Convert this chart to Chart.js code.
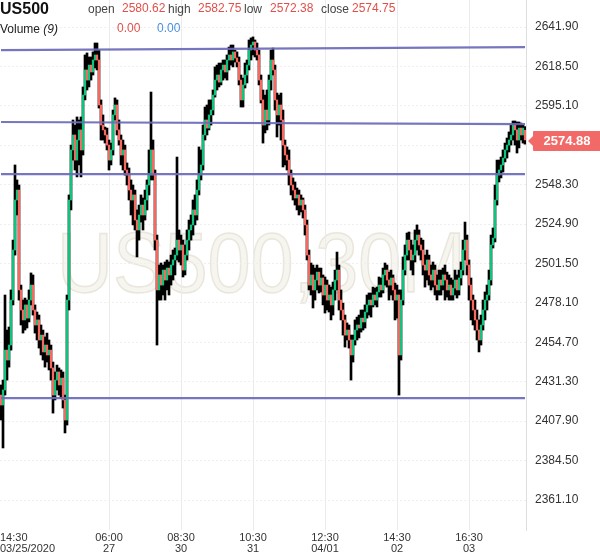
<!DOCTYPE html>
<html><head><meta charset="utf-8">
<script src="https://cdn.jsdelivr.net/npm/chart.js@4.4.1/dist/chart.umd.min.js"></script>
<style>html,body{margin:0;padding:0;background:#fff;}#wrap{position:relative;width:600px;height:558px;}</style>
</head><body><div id="wrap"><canvas id="c" width="600" height="558"></canvas></div>
<script>
// ---- data (US500, 30M candles) ----
const openV=[
2423.4,2417.5,2426.4,2450.1,2444.2,2453.1,2479.8,2509.5,2539.2,2545.1,
2485.8,2473.9,2468.0,2476.9,2469.1,2479.8,2488.7,2473.9,2465.0,2468.0,
2456.1,2459.0,2449.0,2453.1,2447.2,2450.1,2439.5,2423.4,2432.3,2437.1,
2429.4,2433.5,2420.5,2408.6,2479.8,2539.2,2568.9,2577.8,2562.9,2574.8,
2580.8,2568.9,2601.5,2616.4,2610.4,2619.3,2615.2,2622.3,2625.3,2622.3,
2595.6,2583.7,2580.8,2577.8,2571.8,2562.9,2568.9,2589.7,2595.6,2580.8,
2574.8,2565.9,2568.9,2557.0,2554.0,2545.1,2539.2,2542.2,2527.3,2521.4,
2530.3,2536.2,2530.3,2539.2,2548.1,2554.0,2568.9,2554.0,2515.4,2485.8,
2494.7,2488.7,2497.6,2491.7,2498.8,2494.7,2500.6,2503.6,2506.5,2515.4,
2509.5,2512.5,2497.6,2506.5,2515.4,2521.4,2524.4,2533.3,2530.3,2545.1,
2554.0,2560.0,2577.8,2586.7,2581.9,2589.7,2592.6,2601.5,2610.4,2613.4,
2609.2,2616.4,2619.3,2615.2,2622.3,2625.3,2622.3,2627.1,2623.5,2621.1,
2610.4,2598.6,2607.5,2613.4,2619.3,2628.2,2631.2,2633.0,2628.2,2625.3,
2610.4,2598.6,2583.7,2592.6,2586.7,2610.4,2622.3,2616.4,2598.6,2589.7,
2595.6,2586.7,2571.8,2565.9,2562.9,2554.0,2548.1,2545.1,2540.4,2542.2,
2536.2,2539.2,2533.3,2524.4,2506.5,2488.7,2494.7,2485.8,2491.7,2496.4,
2488.7,2492.9,2482.8,2488.7,2479.8,2482.8,2476.9,2485.8,2491.7,2497.6,
2479.8,2473.9,2468.0,2459.0,2462.0,2456.1,2447.2,2456.1,2462.0,2465.0,
2463.2,2469.1,2466.8,2472.7,2476.9,2479.8,2476.9,2482.8,2479.8,2484.6,
2488.7,2485.8,2494.7,2497.6,2491.7,2488.7,2492.9,2485.8,2479.8,2482.8,
2447.2,2479.8,2497.6,2506.5,2515.4,2509.5,2503.6,2506.5,2515.4,2518.4,
2512.5,2509.5,2500.6,2497.6,2503.6,2494.7,2491.7,2497.6,2488.7,2485.8,
2491.7,2488.7,2494.7,2491.7,2485.8,2488.7,2482.8,2486.9,2491.7,2485.8,
2492.9,2497.6,2509.5,2515.4,2500.6,2488.7,2479.8,2473.9,2468.0,2462.0,
2456.1,2465.0,2473.9,2479.8,2482.8,2491.7,2512.5,2516.6,2539.2,2554.0,
2557.0,2560.0,2564.1,2568.9,2571.8,2574.8,2577.8,2583.7,2580.8,2574.8,
2581.9,2577.8,2580.62];
const highV=[
2429.4,2432.3,2482.8,2462.0,2463.8,2485.8,2515.4,2560.0,2551.1,2548.1,
2488.7,2479.8,2481.0,2479.8,2485.8,2495.9,2494.7,2476.9,2472.7,2470.9,
2465.0,2462.0,2457.9,2460.2,2456.1,2453.1,2443.0,2437.1,2441.2,2439.5,
2438.3,2437.1,2423.4,2482.8,2542.2,2571.8,2586.7,2583.7,2588.5,2586.7,
2588.5,2606.3,2625.3,2626.5,2624.1,2624.1,2627.1,2632.4,2632.4,2628.2,
2598.6,2589.7,2582.5,2581.9,2574.8,2573.0,2592.6,2599.8,2598.6,2586.7,
2577.8,2574.8,2571.8,2561.2,2558.2,2551.1,2548.1,2545.1,2533.3,2536.2,
2542.2,2540.4,2545.1,2551.1,2568.9,2603.3,2574.8,2557.0,2518.4,2500.6,
2501.8,2500.6,2502.4,2503.6,2502.4,2506.5,2509.5,2510.7,2564.7,2521.4,
2518.4,2515.4,2512.5,2521.4,2527.3,2530.3,2539.2,2542.2,2551.1,2570.7,
2568.9,2583.7,2594.4,2595.6,2598.6,2598.6,2604.5,2618.2,2619.3,2620.5,
2620.5,2622.3,2622.3,2625.3,2630.0,2631.2,2631.2,2628.2,2627.1,2624.1,
2613.4,2611.6,2620.5,2622.3,2634.2,2635.4,2636.0,2634.2,2632.4,2628.2,
2613.4,2604.5,2601.5,2604.5,2613.4,2628.2,2629.4,2619.3,2602.7,2601.5,
2602.7,2592.6,2574.8,2570.7,2568.9,2557.0,2552.3,2549.9,2546.3,2545.1,
2542.2,2540.4,2536.2,2527.3,2509.5,2501.8,2500.6,2498.8,2500.6,2498.8,
2498.8,2494.7,2493.5,2491.7,2488.7,2487.5,2490.5,2497.6,2508.3,2500.6,
2485.8,2478.0,2470.9,2466.2,2465.0,2459.0,2459.0,2468.0,2469.7,2470.9,
2473.9,2473.9,2476.9,2482.8,2484.0,2484.0,2487.5,2486.9,2487.5,2493.5,
2492.9,2498.8,2501.8,2500.6,2496.4,2497.6,2494.7,2489.9,2488.7,2485.8,
2485.8,2505.4,2512.5,2519.6,2520.2,2515.4,2512.5,2521.4,2524.4,2521.4,
2516.6,2515.4,2506.5,2509.5,2506.5,2500.6,2502.4,2500.6,2494.7,2497.6,
2497.6,2498.8,2500.6,2496.4,2494.7,2492.9,2491.7,2497.6,2494.7,2497.6,
2502.4,2515.4,2526.1,2518.4,2503.6,2492.9,2482.8,2479.8,2473.9,2468.0,
2470.9,2479.8,2484.6,2488.7,2497.6,2518.4,2522.6,2548.1,2562.9,2562.9,
2564.7,2568.9,2573.0,2576.0,2579.6,2583.7,2586.1,2586.1,2585.5,2585.5,
2584.9,2583.7,2582.75];
const lowV=[
2408.6,2392.0,2423.4,2432.3,2440.0,2450.1,2476.9,2506.5,2530.3,2479.8,
2465.0,2460.2,2462.0,2463.2,2466.8,2476.9,2470.9,2460.2,2456.1,2451.3,
2447.2,2444.2,2440.0,2443.0,2438.3,2432.3,2412.7,2420.5,2426.4,2423.4,
2421.6,2415.7,2400.9,2405.6,2473.9,2533.3,2562.9,2557.0,2552.9,2560.0,
2552.9,2565.9,2598.6,2604.5,2606.3,2610.4,2613.4,2617.6,2616.4,2593.8,
2574.8,2574.8,2573.0,2568.9,2557.0,2560.0,2565.9,2586.7,2577.8,2571.8,
2560.0,2557.0,2554.0,2548.1,2539.2,2530.3,2524.4,2521.4,2505.4,2515.4,
2526.1,2521.4,2527.3,2533.3,2542.2,2551.1,2551.1,2509.5,2453.1,2479.8,
2479.8,2482.8,2479.8,2485.8,2482.8,2488.7,2491.7,2494.7,2503.6,2502.4,
2500.6,2493.5,2494.7,2503.6,2509.5,2515.4,2518.4,2524.4,2527.3,2542.2,
2551.1,2557.0,2574.8,2577.8,2580.8,2583.7,2589.7,2600.3,2604.5,2606.3,
2607.5,2610.4,2611.6,2610.4,2616.4,2619.3,2618.2,2621.1,2618.2,2607.5,
2594.4,2594.4,2605.7,2608.7,2616.4,2622.3,2625.3,2624.1,2622.3,2607.5,
2596.8,2573.0,2579.0,2580.8,2583.7,2604.5,2613.4,2592.6,2576.6,2583.7,
2574.8,2558.8,2560.0,2557.0,2548.1,2542.2,2539.2,2536.2,2533.3,2530.3,
2532.1,2528.5,2518.4,2503.6,2485.8,2482.8,2475.1,2479.8,2485.8,2484.0,
2484.6,2476.9,2472.1,2473.9,2472.7,2468.0,2470.9,2479.8,2485.8,2473.9,
2468.0,2459.0,2451.9,2456.1,2451.3,2432.3,2443.0,2453.1,2456.1,2457.3,
2460.8,2462.0,2463.2,2469.1,2470.9,2469.7,2475.7,2476.9,2475.7,2481.6,
2481.6,2484.0,2488.7,2487.5,2479.8,2482.8,2479.8,2468.0,2469.1,2423.4,
2444.2,2476.9,2494.7,2503.6,2503.6,2497.6,2494.7,2502.4,2509.5,2506.5,
2503.6,2494.7,2487.5,2491.7,2488.7,2485.8,2487.5,2482.8,2479.8,2482.8,
2482.8,2485.8,2479.8,2481.6,2479.8,2479.8,2479.8,2482.8,2481.0,2482.8,
2488.7,2494.7,2503.6,2494.7,2479.8,2468.0,2465.0,2462.0,2456.1,2449.0,
2453.1,2462.0,2468.0,2473.9,2479.8,2488.7,2510.7,2514.3,2536.2,2549.9,
2552.3,2555.8,2561.8,2564.1,2567.7,2571.8,2574.8,2571.8,2567.1,2570.1,
2574.8,2573.0,2572.38];
const closeV=[
2417.5,2426.4,2450.1,2444.2,2453.1,2479.8,2509.5,2539.2,2545.1,2485.8,
2473.9,2468.0,2476.9,2469.1,2479.8,2488.7,2473.9,2465.0,2468.0,2456.1,
2459.0,2449.0,2453.1,2447.2,2450.1,2439.5,2423.4,2432.3,2437.1,2429.4,
2433.5,2420.5,2408.6,2479.8,2539.2,2568.9,2577.8,2562.9,2574.8,2580.8,
2568.9,2601.5,2616.4,2610.4,2619.3,2615.2,2622.3,2625.3,2622.3,2595.6,
2583.7,2580.8,2577.8,2571.8,2562.9,2568.9,2589.7,2595.6,2580.8,2574.8,
2565.9,2568.9,2557.0,2554.0,2545.1,2539.2,2542.2,2527.3,2521.4,2530.3,
2536.2,2530.3,2539.2,2548.1,2554.0,2568.9,2554.0,2515.4,2485.8,2494.7,
2488.7,2497.6,2491.7,2498.8,2494.7,2500.6,2503.6,2506.5,2515.4,2509.5,
2512.5,2497.6,2506.5,2515.4,2521.4,2524.4,2533.3,2530.3,2545.1,2554.0,
2560.0,2577.8,2586.7,2581.9,2589.7,2592.6,2601.5,2610.4,2613.4,2609.2,
2616.4,2619.3,2615.2,2622.3,2625.3,2622.3,2627.1,2623.5,2621.1,2610.4,
2598.6,2607.5,2613.4,2619.3,2628.2,2631.2,2633.0,2628.2,2625.3,2610.4,
2598.6,2583.7,2592.6,2586.7,2610.4,2622.3,2616.4,2598.6,2589.7,2595.6,
2586.7,2571.8,2565.9,2562.9,2554.0,2548.1,2545.1,2540.4,2542.2,2536.2,
2539.2,2533.3,2524.4,2506.5,2488.7,2494.7,2485.8,2491.7,2496.4,2488.7,
2492.9,2482.8,2488.7,2479.8,2482.8,2476.9,2485.8,2491.7,2497.6,2479.8,
2473.9,2468.0,2459.0,2462.0,2456.1,2447.2,2456.1,2462.0,2465.0,2463.2,
2469.1,2466.8,2472.7,2476.9,2479.8,2476.9,2482.8,2479.8,2484.6,2488.7,
2485.8,2494.7,2497.6,2491.7,2488.7,2492.9,2485.8,2479.8,2482.8,2447.2,
2479.8,2497.6,2506.5,2515.4,2509.5,2503.6,2506.5,2515.4,2518.4,2512.5,
2509.5,2500.6,2497.6,2503.6,2494.7,2491.7,2497.6,2488.7,2485.8,2491.7,
2488.7,2494.7,2491.7,2485.8,2488.7,2482.8,2486.9,2491.7,2485.8,2492.9,
2497.6,2509.5,2515.4,2500.6,2488.7,2479.8,2473.9,2468.0,2462.0,2456.1,
2465.0,2473.9,2479.8,2482.8,2491.7,2512.5,2516.6,2539.2,2554.0,2557.0,
2560.0,2564.1,2568.9,2571.8,2574.8,2577.8,2583.7,2580.8,2574.8,2581.9,
2577.8,2581.9,2574.88];

const yTickValues=[2641.90,2618.50,2595.10,2571.70,2548.30,2524.90,2501.50,2478.10,2454.70,2431.30,2407.90,2384.50,2361.10];
const xTickIndex=[0,54,90,126,162,198,234];
const xTickTime=['14:30','06:00','08:30','10:30','12:30','14:30','16:30'];
const xTickDate=['03/25/2020','27','30','31','04/01','02','03'];
const levelStart=[2628.2,2585.5,2554.6,2421.6];
const levelEnd=[2630.0,2584.3,2554.6,2421.6];
const lastPrice=2574.88;
const headerLabels=['open','high','low','close'];
const headerValues=['2580.62','2582.75','2572.38','2574.75'];
const volumeValues=['0.00','0.00'];

// ---- build ----
const FONT='Arial, "Liberation Sans", sans-serif';
const N=openV.length;
const labels=openV.map((_,i)=>i);
const wick=lowV.map((l,i)=>[l,highV[i]]);
const body=openV.map((o,i)=>[o,closeV[i]]);
const bodyColors=openV.map((o,i)=>closeV[i]>=o?'#0fc47c':'#f7685f');
const levelSets=levelStart.map((s,k)=>{
  const arr=new Array(N).fill(null); arr[0]=s; arr[N-1]=levelEnd[k];
  return {type:'line',data:arr,spanGaps:true,borderColor:'rgba(106,106,186,0.92)',borderWidth:2.2,pointRadius:0,order:0};
});

const deco={
  id:'deco',
  beforeDraw(chart){
    const {ctx,chartArea:a}=chart;
    ctx.save();
    ctx.beginPath();ctx.rect(a.left,a.top,a.right-a.left,a.bottom-a.top);ctx.clip();
    ctx.translate(57,292);ctx.scale(0.9,1);
    ctx.font='86px '+FONT;ctx.textBaseline='alphabetic';ctx.textAlign='left';
    ctx.fillStyle='rgba(238,235,225,0.5)';
    ctx.fillText('US500,30M',0,0);
    ctx.lineWidth=1.5;ctx.strokeStyle='rgba(218,211,192,0.5)';
    ctx.strokeText('US500,30M',0,0);
    ctx.restore();
  },
  afterDraw(chart){
    const {ctx,scales}=chart;
    const xs=scales.x, ys=scales.y;
    ctx.save();
    // x labels
    ctx.font='11px '+FONT;ctx.fillStyle='#333';ctx.textBaseline='alphabetic';
    xTickIndex.forEach((idx,k)=>{
      const x=xs.getPixelForValue(idx);
      if(k===0){ctx.textAlign='left';ctx.fillText(xTickTime[k],0,541);ctx.fillText(xTickDate[k],0,552);}
      else{ctx.textAlign='center';ctx.fillText(xTickTime[k],x,541);ctx.fillText(xTickDate[k],x,552);}
    });
    // price tag
    const y=ys.getPixelForValue(lastPrice)+1;
    ctx.fillStyle='#f26a68';
    ctx.beginPath();
    ctx.moveTo(528,y);ctx.lineTo(533,y-5);ctx.lineTo(533,y-9);
    ctx.arcTo(533,y-10,534,y-10,1);ctx.lineTo(600,y-10);ctx.lineTo(600,y+10);
    ctx.lineTo(534,y+10);ctx.arcTo(533,y+10,533,y+9,1);ctx.lineTo(533,y+5);ctx.closePath();ctx.fill();
    ctx.fillStyle='#fff';ctx.font='bold 13px '+FONT;ctx.textAlign='center';ctx.textBaseline='middle';
    ctx.fillText(lastPrice.toFixed(2),567,y+1);
    // header
    ctx.textBaseline='alphabetic';ctx.textAlign='left';
    ctx.font='bold 16px '+FONT;ctx.fillStyle='#111';ctx.fillText('US500',0,14);
    const lx=[88,168,244,321], vx=[122,198,270,352];
    headerLabels.forEach((t,k)=>{
      ctx.font='12px '+FONT;ctx.fillStyle='#444';ctx.fillText(t,lx[k],13);
      ctx.fillStyle='#e0504a';ctx.fillText(headerValues[k],vx[k],12);
    });
    ctx.font='12px '+FONT;ctx.fillStyle='#222';ctx.fillText('Volume',0,33);
    const w=ctx.measureText('Volume ').width;
    ctx.font='italic 12px '+FONT;ctx.fillText('(9)',w,33);
    ctx.font='12px '+FONT;ctx.fillStyle='#e0504a';ctx.fillText(volumeValues[0],117,32);
    ctx.fillStyle='#4a8fe0';ctx.fillText(volumeValues[1],157,32);
    ctx.restore();
  }
};

new Chart(document.getElementById('c'),{
  type:'bar',
  data:{labels,datasets:[
    ...levelSets,
    {data:body,backgroundColor:bodyColors,barThickness:1.6,grouped:false,borderWidth:0,order:1},
    {data:wick,backgroundColor:'#000',barThickness:2,grouped:false,borderWidth:0,order:2}
  ]},
  options:{
    responsive:false,animation:false,devicePixelRatio:1,
    layout:{padding:{left:0,right:0,top:0,bottom:28}},
    plugins:{legend:{display:false},tooltip:{enabled:false}},
    scales:{
      x:{type:'category',offset:true,
        grid:{offset:false,drawTicks:false,color:c=>(xTickIndex.indexOf(c.index)>0?'#ebebeb':'rgba(0,0,0,0)')},
        ticks:{display:false,autoSkip:false},border:{display:false}},
      y:{position:'right',min:2343.3,max:2657.93,
        afterBuildTicks:s=>{s.ticks=yTickValues.map(v=>({value:v}));},
        afterFit:s=>{s.width=74;s.paddingTop=0;s.paddingBottom=0;},
        ticks:{callback:v=>Number(v).toFixed(2),font:{size:12,family:FONT},color:'#333',padding:9},
        grid:{color:'#efefef',drawTicks:false},
        border:{display:true,color:'#dedede',dash:[2,2]}}
    }
  },
  plugins:[deco]
});
</script></body></html>
